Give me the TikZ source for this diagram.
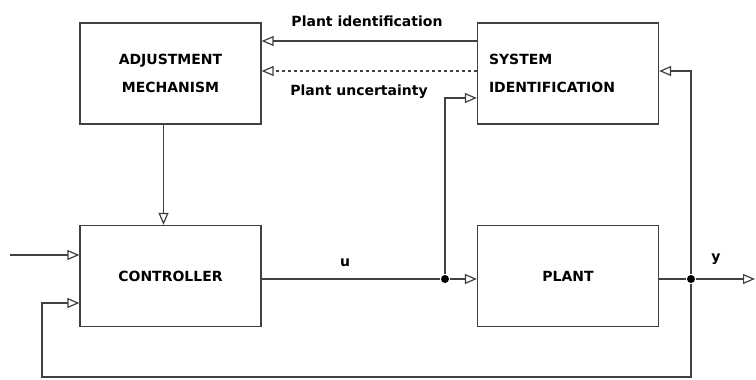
\documentclass[tikz,border=0pt]{standalone}
\usepackage{fontspec}
\setmainfont{DejaVu Sans}
\usetikzlibrary{arrows.meta}

\tikzset{every picture/.style={line width=1.3pt}}
\tikzset{
  blk/.style={draw=black!75, fill=white, minimum width=181pt, minimum height=101pt, inner sep=0pt, font=\fontsize{14}{28}\selectfont\bfseries},
  lbl/.style={inner sep=0.75pt, font=\fontsize{14}{16}\selectfont\bfseries},
  arr/.style={draw=black!75, -{Triangle[open, length=12pt, width=10pt, line width=1.2pt]}},
  wire/.style={draw=black!75},
  dot/.style={circle, fill=black, inner sep=0pt, minimum size=8pt}
}

\begin{document}
\begin{tikzpicture}[x=1pt,y=1pt,yscale=-1,xscale=1]
\useasboundingbox (0,0) rectangle (756,380);

%Shape: Rectangle [id:adjust]
\node [blk, align=center] (adj) at (170.5,73.5) {ADJUSTMENT\\MECHANISM};
%Shape: Rectangle [id:sysid]
\node [blk, align=left, text width=158pt] (sysid) at (568,73.5) {SYSTEM\\IDENTIFICATION};
%Shape: Rectangle [id:ctrl]
\node [blk] (ctrl) at (170.5,276) {CONTROLLER};
%Shape: Rectangle [id:plant]
\node [blk] (plant) at (568,276) {PLANT};

%Shape: Circle [id:junctions]
\node [dot] (ju) at (445,279) {};
\node [dot] (jy) at (691,279) {};
\coordinate (rin) at (10,255);
\coordinate (yout) at (755,279);
\coordinate (fbl) at (42,377);
\coordinate (fbr) at (691,377);

%Straight Lines [id:plantid]
\draw [arr] (sysid.west |- 0,41) -- (adj.east |- 0,41);
%Straight Lines [id:uncert]
\draw [arr, dash pattern={on 3pt off 3pt}] (sysid.west |- 0,71) -- (adj.east |- 0,71);
%Straight Lines [id:adjctrl]
\draw [arr] ([xshift=-7pt]adj.south) -- ([xshift=-7pt]ctrl.north);
%Straight Lines [id:ref]
\draw [arr] (rin) -- (ctrl.west |- rin);
%Straight Lines [id:u]
\draw [wire] (ctrl.east |- ju) -- (ju);
\draw [arr] (ju) -- (plant.west |- ju);
\draw [arr] (ju) |- (sysid.west |- 0,98);
%Straight Lines [id:y]
\draw [wire] (plant.east |- jy) -- (jy);
\draw [arr] (jy) -- (yout);
\draw [arr] (jy) |- (sysid.east |- 0,71);
%Straight Lines [id:feedback]
\draw [arr] (jy) -- (fbr) -- (fbl) |- (ctrl.west |- 0,303);

% Text Node
\node [lbl] (lpi) at (367,21) {Plant identification};
% Text Node
\node [lbl] (lpu) at (359,92) {Plant uncertainty};
% Text Node
\node [lbl] (lu) at (345,263) {u};
% Text Node
\node [lbl] (ly) at (716,259) {y};

\end{tikzpicture}
\end{document}
